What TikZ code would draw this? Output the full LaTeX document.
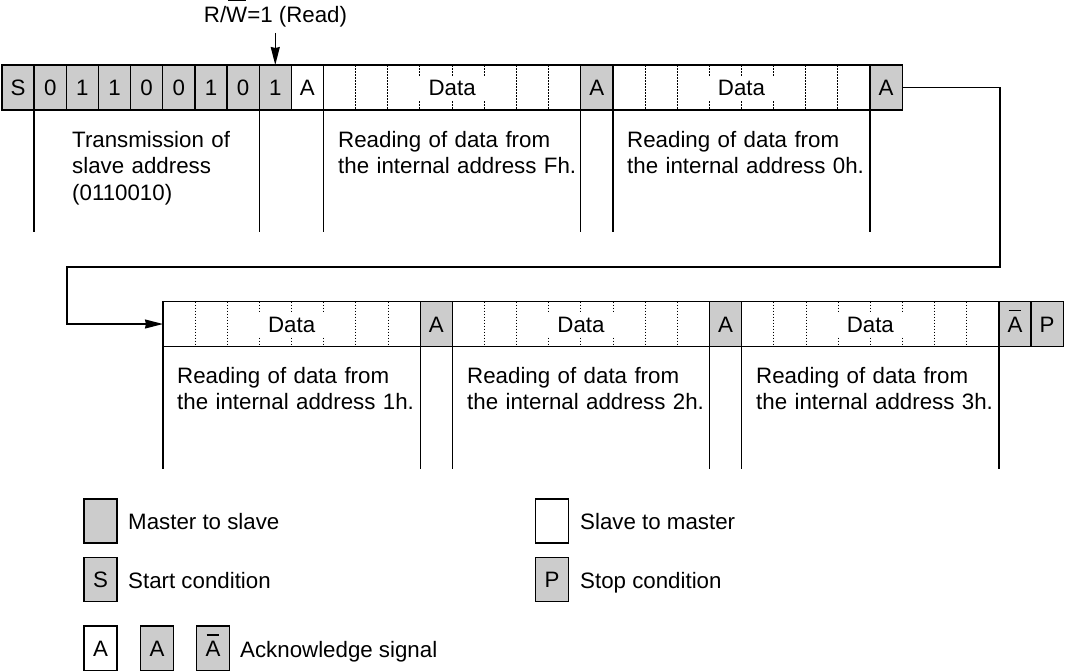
\documentclass[tikz,border=0pt]{standalone}
\usepackage{fontspec}
\setmainfont{Liberation Sans}
\usetikzlibrary{arrows.meta}
\definecolor{msgrey}{RGB}{204,204,204}
\newcommand{\lbl}{\fontsize{22.3}{26.7}\selectfont}
\newcommand{\ovbar}[1]{\setbox0\hbox{#1}\leavevmode\rlap{\hbox to \wd0{\hfil\rule[21pt]{0.85\wd0}{1.3pt}\hfil}}\box0}
\begin{document}
\begin{tikzpicture}[x=1pt,y=-1pt,
  cell/.style={draw, line width=1.4pt, minimum width=32.15pt, minimum height=45pt, inner sep=0pt, outer sep=0pt, text height=16pt, text depth=0pt, font=\lbl},
  ms/.style={cell, fill=msgrey},
  sm/.style={cell, fill=white},
  legbox/.style={minimum width=33pt, minimum height=44pt},
  databox/.style={draw, line width=1.4pt, fill=white, minimum width=257.2pt, minimum height=45pt, inner sep=0pt, outer sep=0pt, anchor=west},
  datalbl/.style={fill=white, minimum width=76pt, minimum height=24pt, inner sep=0pt, text height=16pt, text depth=0pt, font=\lbl},
  bitdiv/.style={line width=1pt, dash pattern=on 1.5pt off 1.5pt},
  guide/.style={line width=1.4pt},
  desc/.style={anchor=base west, align=left, text width=330pt, inner sep=0pt, font=\lbl},
  legtxt/.style={anchor=base west, inner sep=0pt, font=\lbl},
  arrowline/.style={line width=1.4pt, -{Stealth[length=18pt,width=9pt,inset=1pt]}}
]
\useasboundingbox (0,0) rectangle (1065,670);

% ---------- row 1 ----------
\foreach \t [count=\i from 0] in {S,0,1,1,0,0,1,0,1}
  \node[ms] (a\i) at ({2+(\i+0.5)*32.15},87.5) {\t};
\node[sm] (a9) at ({2+9.5*32.15},87.5) {A};
\node[databox] (d1) at ({2+10*32.15},87.5) {};
\foreach \k in {1,...,7}
  \draw[bitdiv] ([xshift=\k*32.15pt]d1.north west) -- ([xshift=\k*32.15pt]d1.south west);
\node[datalbl] (d1l) at (d1.center) {Data};
\node[ms] (a18) at ({2+18.5*32.15},87.5) {A};
\node[databox] (d2) at ({2+19*32.15},87.5) {};
\foreach \k in {1,...,7}
  \draw[bitdiv] ([xshift=\k*32.15pt]d2.north west) -- ([xshift=\k*32.15pt]d2.south west);
\node[datalbl] (d2l) at (d2.center) {Data};
\node[ms] (a27) at ({2+27.5*32.15},87.5) {A};

% guides row 1
\draw[guide] (a1.south west) -- ++(0,122);
\draw[guide] (a8.south west) -- ++(0,122);
\draw[guide] (d1.south west) -- ++(0,122);
\draw[guide] (d1.south east) -- ++(0,122);
\draw[guide] (d2.south west) -- ++(0,122);
\draw[guide] (d2.south east) -- ++(0,122);

% R/W label
\node[font=\lbl, anchor=base, inner sep=0pt] (rw) at (275.5,22) {R/\ovbar{W}=1 (Read)};
\draw[arrowline] ([yshift=-6pt]rw.south -| a8.north) -- (a8.north);

% descriptions row 1
\node[desc] (t1) at (72,147) {Transmission of\\slave address\\(0110010)};
\node[desc] (t2) at (338,147) {Reading of data from\\the internal address Fh.};
\node[desc] (t3) at (627,147) {Reading of data from\\the internal address 0h.};

% ---------- row 2 ----------
\node[databox] (e1) at (163,324) {};
\foreach \k in {1,...,7}
  \draw[bitdiv] ([xshift=\k*32.15pt]e1.north west) -- ([xshift=\k*32.15pt]e1.south west);
\node[datalbl] (e1l) at (e1.center) {Data};
\node[ms] (b8) at ({163+8.5*32.15},324) {A};
\node[databox] (e2) at ({163+9*32.15},324) {};
\foreach \k in {1,...,7}
  \draw[bitdiv] ([xshift=\k*32.15pt]e2.north west) -- ([xshift=\k*32.15pt]e2.south west);
\node[datalbl] (e2l) at (e2.center) {Data};
\node[ms] (b17) at ({163+17.5*32.15},324) {A};
\node[databox] (e3) at ({163+18*32.15},324) {};
\foreach \k in {1,...,7}
  \draw[bitdiv] ([xshift=\k*32.15pt]e3.north west) -- ([xshift=\k*32.15pt]e3.south west);
\node[datalbl] (e3l) at (e3.center) {Data};
\node[ms] (b26) at ({163+26.5*32.15},324) {\ovbar{A}};
\node[ms] (b27) at ({163+27.5*32.15},324) {P};

% guides row 2
\draw[guide] (e1.south west) -- ++(0,122);
\draw[guide] (e1.south east) -- ++(0,122);
\draw[guide] (e2.south west) -- ++(0,122);
\draw[guide] (e2.south east) -- ++(0,122);
\draw[guide] (e3.south west) -- ++(0,122);
\draw[guide] (e3.south east) -- ++(0,122);

% descriptions row 2
\node[desc] (u1) at (177,383) {Reading of data from\\the internal address 1h.};
\node[desc] (u2) at (467,383) {Reading of data from\\the internal address 2h.};
\node[desc] (u3) at (756,383) {Reading of data from\\the internal address 3h.};

% connector between rows
\coordinate (c1) at (1000,267);
\coordinate (c2) at (67,267);
\draw[arrowline] (a27.east) -| (c1) -- (c2) |- (e1.west);

% ---------- legend ----------
\node[ms, legbox] (l1) at (100.5,521) {};
\node[legtxt] (l1t) at (128,529.5) {Master to slave};
\node[ms, legbox] (l2) at (100.5,579.5) {S};
\node[legtxt] (l2t) at (128,588) {Start condition};
\node[sm, legbox] (l3) at (552,521) {};
\node[legtxt] (l3t) at (580,529.5) {Slave to master};
\node[ms, legbox] (l4) at (552,579.5) {P};
\node[legtxt] (l4t) at (580,588) {Stop condition};
\node[sm, legbox, minimum height=45pt] (l5) at (100.5,648.5) {A};
\node[ms, legbox, minimum height=45pt] (l6) at (157,648.5) {A};
\node[ms, legbox, minimum height=45pt] (l7) at (213,648.5) {\ovbar{A}};
\node[legtxt] (l7t) at (240,657) {Acknowledge signal};
\end{tikzpicture}
\end{document}
